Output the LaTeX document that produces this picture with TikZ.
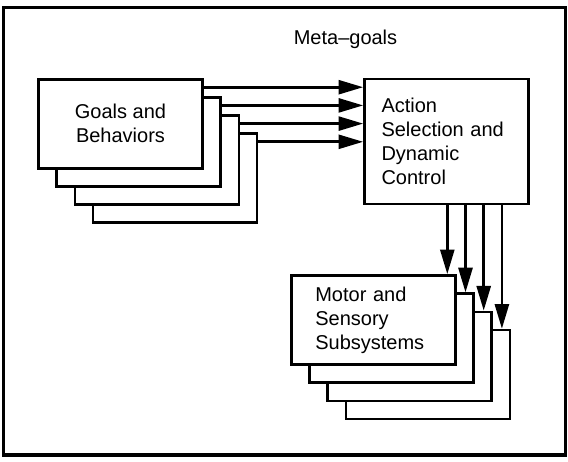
\documentclass[tikz,border=0pt]{standalone}
\usepackage{fontspec}
\setmainfont{Liberation Sans}
\usetikzlibrary{arrows.meta}

\begin{document}
\begin{tikzpicture}[x=0.75pt, y=-0.75pt, line width=2pt,
    font=\fontsize{15pt}{18pt}\selectfont,
    box/.style={draw, fill=white, minimum width=123pt, minimum height=66.75pt, inner sep=0pt},
    arr/.style={-{Triangle[length=18.5pt, width=10.5pt]}}]
    \def\dd{18.2} % offset between stacked boxes

    \useasboundingbox (0,0) rectangle (568,461);

    % Outer frame
    \draw[line width=2.4pt] (3.6,7.3) rectangle (565.5,455);
    \node (meta) at (345.5,39) {Meta--goals};

    % Goals and behaviors (back to front)
    \foreach \i in {4,3,2} {
      \node[box] (goals\i) at (120.5+\i*\dd-\dd, 123.7+\i*\dd-\dd) {};
    }
    \node[box, align=center] (goals1) at (120.5, 123.7) {Goals and\\Behaviors};

    % Action selection
    \node[box, minimum height=93.75pt, text width=97.5pt, inner xsep=12.75pt, align=left]
      (action) at (446.5,141.5) {Action\\Selection and\\Dynamic\\Control};

    % Motor and sensory subsystems (back to front)
    \foreach \i in {4,3,2} {
      \node[box] (motor\i) at (373.3+\i*\dd-\dd, 320+\i*\dd-\dd) {};
    }
    \node[box, text width=87pt, inner xsep=18pt, align=left]
      (motor1) at (373.3, 320) {Motor and\\Sensory\\Subsystems};

    % Arrows into action selection
    \foreach \i in {1,...,4} {
      \coordinate (s\i) at ([yshift=-7pt]goals\i.north east);
      \draw[arr] (s\i) -- (s\i -| action.west);
    }

    % Arrows down to subsystems
    \foreach \i in {1,...,4} {
      \coordinate (t\i) at ([xshift=-7pt]motor\i.north east);
      \draw[arr] (t\i |- action.south) -- (t\i);
    }

  \end{tikzpicture}
\end{document}
